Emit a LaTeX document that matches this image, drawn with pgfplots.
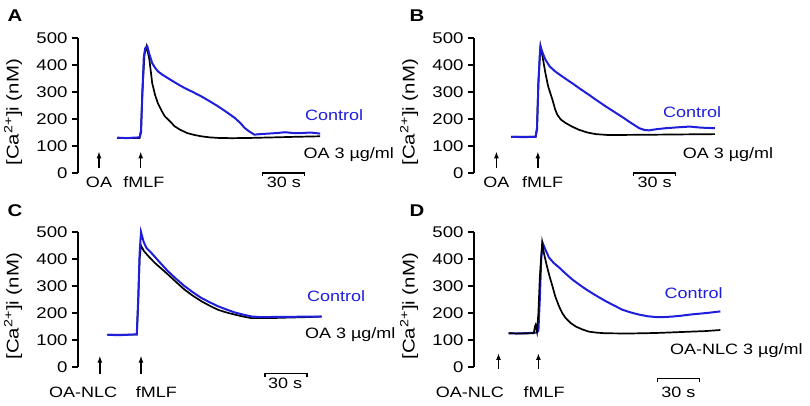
\documentclass[border=0pt]{standalone}
\usepackage{fontspec}
\setmainfont[FakeStretch=1.2]{Liberation Sans}
\usepackage{pgfplots}
\pgfplotsset{compat=1.18}
\usetikzlibrary{arrows.meta}
\definecolor{ctrl}{RGB}{30,30,220}

\pgfplotsset{
  trace/.style={
    x=1.4pt, y=0.27pt,
    xmin=0, xmax=230, ymin=0, ymax=500,
    axis x line=none, axis y line*=left,
    ytick={0,100,...,500},
    tick align=outside, major tick length=6pt,
    axis line style={line width=1.4pt},
    every tick/.style={black, line width=1.4pt},
    yticklabel style={font=\fontsize{15.5}{15.5}\selectfont, xshift=-1pt},
    /pgf/number format/assume math mode=true,
    clip=false, anchor=south west,
  },
  ctl/.style={ctrl, line width=2pt},
  oa/.style={black, line width=1.7pt},
}
\newcommand{\ylab}{\node[xshift=-65pt, rotate=90, font=\fontsize{17}{17}\selectfont] at (axis cs:0,225) {[Ca\textsuperscript{2+}]i (nM)};}
\tikzset{up/.style={-{Latex[length=7pt,width=5pt]}, line width=1.5pt},
  txt/.style={font=\fontsize{15}{15}\selectfont}}

\begin{document}
\begin{tikzpicture}
\path[use as bounding box] (0,0) rectangle (810pt,-405pt);

% A
\begin{axis}[trace, at={(78pt,-173pt)}]
\addplot[oa] coordinates {(28,130) (35,130) (44,130) (45,160) (46,300) (47.5,440) (49,469) (51,420) (53,333) (55,290) (57,259) (60,228) (62,210) (66,190) (69,173) (73,160) (78,148) (83,141) (88,136) (94,132) (100,130) (110,129) (124,130) (140,132) (155,134) (173,136)};
\addplot[ctl] coordinates {(28,131) (35,129) (40,131) (44,132) (45,150) (46,300) (47,430) (48,462) (49.5,469) (51,440) (53,407) (55,390) (57,377) (60,365) (64,352) (70,333) (76,315) (82,300) (88,284) (94,266) (100,247) (106,226) (112,204) (116,185) (119,167) (122,155) (126,142) (130,144) (136,146) (142,148) (148,151) (154,148) (160,148) (166,150) (173,146)};
\ylab
\draw[up] (axis cs:15,18) -- (axis cs:15,80);
\draw[up] (axis cs:44.8,18) -- (axis cs:44.8,80);
\node[txt] at (axis cs:15,-35) {OA};
\node[txt] at (axis cs:47,-35) {fMLF};
\draw[line width=1.2pt] (axis cs:132,-11) -- (axis cs:132,0) -- (axis cs:162,0) -- (axis cs:162,-11);
\node[txt] at (axis cs:147,-35) {30 s};
\node[txt, ctrl, anchor=west, inner sep=0pt] at (axis cs:162,215) {Control};
\node[txt, anchor=west, inner sep=0pt] at (axis cs:161,67) {OA 3 µg/ml};
\end{axis}

% B
\begin{axis}[trace, at={(474pt,-173pt)}]
\addplot[oa] coordinates {(26.6,134) (44,134) (45,170) (46,340) (47.5,469) (49,430) (51,370) (53,320) (56,272) (58,235) (59.5,216) (62,198) (65.5,185) (70,172) (75,160) (81,150) (87,144) (95,141) (106,141) (130,142) (150,143) (172,144)};
\addplot[ctl] coordinates {(26.6,134) (35,133) (44,134) (45,160) (46,330) (47,440) (47.5,469) (49,445) (51,420) (54,395) (58,376) (64,354) (70,333) (76,311) (82,290) (88,268) (94,247) (100,227) (106,207) (112,186) (118,166) (122,159) (125,158) (130,162) (137,166) (145,169) (154,172) (162,168) (172,166)};
\ylab
\draw[up] (axis cs:16,18) -- (axis cs:16,80);
\draw[up] (axis cs:45.6,18) -- (axis cs:45.6,80);
\node[txt] at (axis cs:16,-35) {OA};
\node[txt] at (axis cs:49,-35) {fMLF};
\draw[line width=1.2pt] (axis cs:114,-11) -- (axis cs:114,0) -- (axis cs:144,0) -- (axis cs:144,-11);
\node[txt] at (axis cs:129,-35) {30 s};
\node[txt, ctrl, anchor=west, inner sep=0pt] at (axis cs:135,226) {Control};
\node[txt, anchor=west, inner sep=0pt] at (axis cs:149,67) {OA 3 µg/ml};
\end{axis}

% C
\begin{axis}[trace, at={(78pt,-367pt)}]
\addplot[oa] coordinates {(21,120) (42,120) (43,240) (44,400) (45,450) (47,430) (50,412) (55,385) (64,344) (70,315) (76,287) (82,264) (88,244) (94,227) (100,212) (106,202) (112,194) (118,187) (124,181) (136,181) (150,183) (165,185) (174,187)};
\addplot[ctl] coordinates {(21,119) (30,118) (38,120) (42,121) (43,250) (44,420) (45,500) (46,480) (47,462) (49,440) (52,425) (58,390) (64,356) (70,327) (76,300) (82,277) (88,256) (94,240) (100,225) (106,213) (112,202) (118,194) (124,187) (130,185) (136,185) (145,186) (155,186) (165,187) (174,187)};
\ylab
\draw[up] (axis cs:15.6,-25) -- (axis cs:15.6,42);
\draw[up] (axis cs:45,-25) -- (axis cs:45,42);
\node[txt] at (axis cs:3.6,-93) {OA-NLC};
\node[txt] at (axis cs:56,-93) {fMLF};
\draw[line width=1.2pt] (axis cs:133.6,-36) -- (axis cs:133.6,-25) -- (axis cs:163.5,-25) -- (axis cs:163.5,-36);
\node[txt] at (axis cs:148,-60) {30 s};
\node[txt, ctrl, anchor=west, inner sep=0pt] at (axis cs:163.5,262) {Control};
\node[txt, anchor=west, inner sep=0pt] at (axis cs:162,119) {OA 3 µg/ml};
\end{axis}

% D
\begin{axis}[trace, at={(474pt,-367pt)}]
\addplot[ctl] coordinates {(24.7,125) (30,124) (40,126) (45,128) (46,135) (47,250) (48,400) (49,460) (51,435) (53.5,406) (57,385) (60.7,369) (65,348) (70,325) (76,302) (82,281) (88,262) (94,244) (100,228) (106,212) (112,202) (118,194) (124,188) (130,185) (136,185) (142,187) (148,190) (154,194) (160,197) (168,201) (176,206)};
\addplot[oa] coordinates {(24.7,125) (35,124) (42.7,125) (43.5,150) (44,156) (45,131) (46,200) (47,330) (48.7,460) (50,420) (52,375) (54,335) (56,300) (58,262) (60.7,225) (63,200) (65.5,181) (69,163) (72.7,150) (77,140) (82,131) (88,127) (94,125) (110,124) (130,126) (150,130) (165,133) (176,137)};
\ylab
\draw[up] (axis cs:17.5,-6) -- (axis cs:17.5,52);
\draw[up] (axis cs:46,-6) -- (axis cs:46,52);
\node[txt] at (axis cs:-3,-94) {OA-NLC};
\node[txt] at (axis cs:50,-94) {fMLF};
\draw[line width=1.2pt] (axis cs:131,-55) -- (axis cs:131,-44) -- (axis cs:161,-44) -- (axis cs:161,-55);
\node[txt] at (axis cs:146,-94) {30 s};
\node[txt, ctrl, anchor=west, inner sep=0pt] at (axis cs:136,275) {Control};
\node[txt, anchor=west, inner sep=0pt] at (axis cs:140,62) {OA-NLC 3 µg/ml};
\end{axis}

\node[font=\fontsize{17}{17}\selectfont\bfseries] at (15pt,-16pt) {A};
\node[font=\fontsize{17}{17}\selectfont\bfseries] at (417pt,-16pt) {B};
\node[font=\fontsize{17}{17}\selectfont\bfseries] at (15pt,-211pt) {C};
\node[font=\fontsize{17}{17}\selectfont\bfseries] at (417pt,-211pt) {D};
\end{tikzpicture}
\end{document}
